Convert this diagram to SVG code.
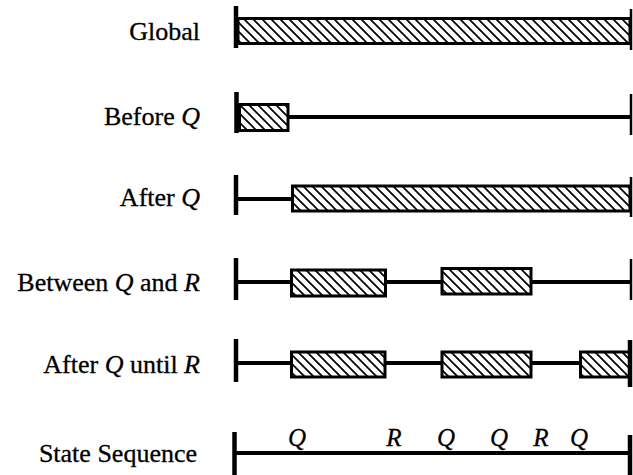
<svg xmlns="http://www.w3.org/2000/svg" width="633" height="475" viewBox="0 0 633 475">
  <defs>
    <!-- diagonal hatching for the active intervals, on an opaque white ground -->
    <pattern id="hatch" patternUnits="userSpaceOnUse" width="9" height="9">
      <rect width="9" height="9" fill="#fff"/>
      <path d="M0,0 L9,9 M-1,8 L1,10 M8,-1 L10,1" stroke="#000" stroke-width="1.7" fill="none"/>
    </pattern>
    <style>
      .lbl { font-family: "Liberation Serif", "Times New Roman", serif; font-size: 26px; fill: #000; stroke: #000; stroke-width: 0.3; text-anchor: end; }
      .sym { font-family: "Liberation Serif", "Times New Roman", serif; font-size: 25px; font-style: italic; fill: #000; stroke: #000; stroke-width: 0.3; text-anchor: middle; }
      .it { font-style: italic; }
      .box { fill: url(#hatch); stroke: #000; stroke-width: 3; }
      .line { stroke: #000; stroke-width: 3.8; fill: none; }
      .ltick { stroke: #000; stroke-width: 4.5; }
      .rtick { stroke: #000; stroke-width: 2.5; }
    </style>
  </defs>
  <rect width="633" height="475" fill="#fff"/>

  <!-- scope labels -->
  <g id="labels">
    <text class="lbl" x="200" y="40">Global</text>
    <text class="lbl" x="200" y="125">Before <tspan class="it">Q</tspan></text>
    <text class="lbl" x="200" y="206">After <tspan class="it">Q</tspan></text>
    <text class="lbl" x="200" y="291">Between <tspan class="it">Q</tspan> and <tspan class="it">R</tspan></text>
    <text class="lbl" x="200" y="373">After <tspan class="it">Q</tspan> until <tspan class="it">R</tspan></text>
    <text class="lbl" x="197" y="462">State Sequence</text>
  </g>

  <!-- Global -->
  <g id="global">
    <line class="ltick" x1="236" y1="6" x2="236" y2="48"/>
    <rect class="box" x="238" y="18.5" width="392" height="25"/>
    <line class="rtick" x1="631" y1="9" x2="631" y2="50"/>
  </g>

  <!-- Before Q -->
  <g id="before-q">
    <line class="ltick" x1="236.5" y1="92" x2="236.5" y2="133"/>
    <line class="line" x1="288" y1="117" x2="631" y2="117"/>
    <rect class="box" x="239.5" y="104.5" width="48.5" height="26"/>
    <line class="rtick" x1="631" y1="94" x2="631" y2="135"/>
  </g>

  <!-- After Q -->
  <g id="after-q">
    <line class="ltick" x1="236" y1="175" x2="236" y2="215"/>
    <line class="line" x1="236" y1="199" x2="292" y2="199"/>
    <rect class="box" x="292.5" y="186" width="337.5" height="25"/>
    <line class="rtick" x1="631" y1="177" x2="631" y2="217"/>
  </g>

  <!-- Between Q and R -->
  <g id="between-q-r">
    <line class="ltick" x1="236" y1="258" x2="236" y2="300"/>
    <line class="line" x1="236" y1="282" x2="631" y2="282"/>
    <rect class="box" x="291.5" y="270" width="94" height="26"/>
    <rect class="box" x="442" y="268.5" width="89" height="25.5"/>
    <line class="rtick" x1="631" y1="259" x2="631" y2="300"/>
  </g>

  <!-- After Q until R -->
  <g id="after-q-until-r">
    <line class="ltick" x1="236" y1="339" x2="236" y2="382"/>
    <line class="line" x1="236" y1="363" x2="631" y2="363"/>
    <rect class="box" x="291.5" y="352" width="93.5" height="25"/>
    <rect class="box" x="442" y="352" width="89" height="25"/>
    <rect class="box" x="580.5" y="352" width="49.5" height="25"/>
    <line class="ltick" x1="630" y1="340" x2="630" y2="387"/>
  </g>

  <!-- State sequence -->
  <g id="state-sequence">
    <line class="ltick" x1="234.5" y1="432" x2="234.5" y2="475"/>
    <line class="line" x1="234" y1="453" x2="631" y2="453"/>
    <line class="ltick" x1="630" y1="435" x2="630" y2="475"/>
    <text class="sym" x="297" y="446">Q</text>
    <text class="sym" x="394" y="446">R</text>
    <text class="sym" x="446" y="446">Q</text>
    <text class="sym" x="499" y="446">Q</text>
    <text class="sym" x="541" y="446">R</text>
    <text class="sym" x="579" y="446">Q</text>
  </g>
</svg>
